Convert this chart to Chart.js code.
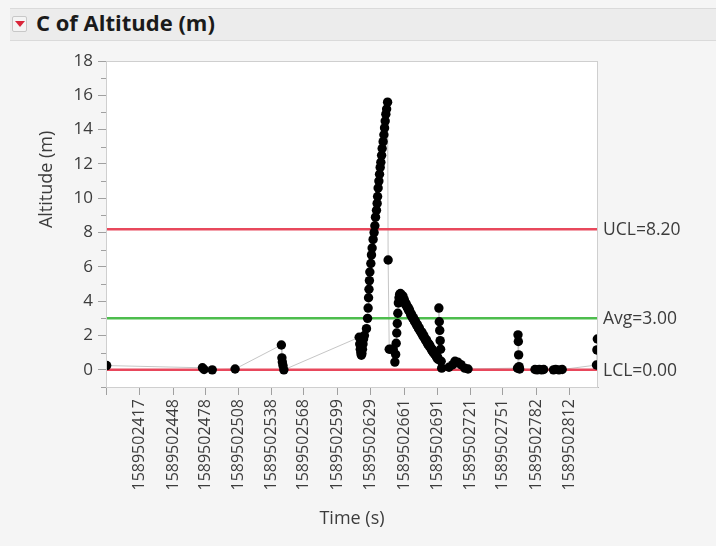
<!DOCTYPE html>
<html>
<head>
<meta charset="utf-8">
<script src="https://cdn.jsdelivr.net/npm/chart.js@4"></script>
<style>
  html, body { margin: 0; padding: 0; }
  body { width: 716px; height: 546px; background: #f5f5f5; position: relative; overflow: hidden; font-family: "Open Sans", sans-serif; }
  #head { position: absolute; left: 10px; top: 8px; width: 706px; height: 31px; background: #ececec; border-top: 1px solid #dadada; border-bottom: 1px solid #dadada; }
  #tri { position: absolute; left: 2px; top: 7px; width: 13px; height: 14px; background: #f4f4f4; border: 1px solid #c8c8c8; border-radius: 2px; }
  #tri:after { content: ''; position: absolute; left: 1.5px; top: 4px; border-left: 5px solid transparent; border-right: 5px solid transparent; border-top: 6px solid #d9263a; }
  #title { position: absolute; left: 26px; top: -2px; font-size: 22px; font-weight: 700; color: #1a1a1a; }
  #wrap { position: absolute; left: 0; top: 40px; width: 716px; height: 506px; }
</style>
</head>
<body>
<div id="head"><span id="tri"></span><span id="title">C of Altitude (m)</span></div>
<div id="wrap"><canvas id="chart"></canvas></div>
<script>
// time offsets (s) from T0
const T0 = 1589502000;
const times = [
  387, 475, 476.5, 484, 505,
  547.5, 548, 548.4, 549, 549.8,
  619, 619.5, 620, 620.5, 621, 621.5, 622, 622.5, 623, 623.8,
  625.7, 626.7, 627.2, 627.6, 628.0, 628.4, 628.8, 629.7, 630.3, 630.9,
  631.8, 632.7, 633.4, 634.0, 634.9, 635.5, 635.9, 636.4, 637.1, 637.7,
  638.3, 638.9, 639.6, 640.1, 641.0, 641.7, 642.3, 642.9, 643.5, 644.2, 645.1,
  645.6, 646.6, 648.5, 650.3, 651.8,
  652.5, 653.0, 653.5, 654.0, 654.5, 655.0, 655.6, 656.2, 656.9,
  658.0, 658.6, 659.2, 659.8, 660.4, 661.0, 661.6, 662.2, 662.8, 663.4,
  664.0, 664.6, 665.2, 665.8, 666.4, 667.0, 667.6, 668.2, 668.8, 669.4,
  670.0, 670.6, 671.2, 671.8, 672.4, 673.0, 673.6, 674.2, 674.8, 675.4,
  676.0, 676.6, 677.2, 677.8, 678.4, 679.0, 679.6, 680.2, 680.8, 681.4,
  682.0, 682.6, 683.2, 683.8, 684.4, 685.0, 685.6, 686.2, 686.8, 687.4,
  688.0, 688.6, 689.2, 689.8, 690.4, 691.0, 691.6,
  692.2, 692.6, 693.0, 693.4, 693.8, 694.3, 694.8,
  701.5, 705, 707, 709.5, 712.5, 716, 719,
  764.5, 764.9, 765.2, 765.5, 765.9, 766.4,
  780.5, 782.5, 784.5, 786.5, 788.5,
  797.5, 799.5, 802.5, 805.5,
  837, 837.4, 837.8
];
const altitude = [
  0.25, 0.12, 0.02, 0.0, 0.05,
  1.45, 0.7, 0.45, 0.25, 0.0,
  1.9, 1.5, 1.2, 1.0, 0.85, 0.95, 1.2, 1.5, 1.8, 2.0,
  2.4, 3.0, 3.6, 4.2, 4.7, 5.2, 5.7, 6.2, 6.7, 7.1,
  7.6, 8.0, 8.4, 8.9, 9.3, 9.7, 10.1, 10.6, 11.0, 11.4,
  11.8, 12.1, 12.5, 12.9, 13.3, 13.7, 14.1, 14.5, 14.9, 15.2, 15.6,
  6.4, 1.2, 1.2, 1.2, 0.45,
  0.9, 1.55, 2.15, 2.7, 3.3, 3.9, 4.2, 4.4, 4.45,
  4.35, 4.2, 4.3, 4.05, 4.1, 3.95, 3.8, 3.85, 3.7, 3.6,
  3.65, 3.45, 3.5, 3.35, 3.2, 3.25, 3.1, 3.0, 3.05, 2.9,
  2.8, 2.85, 2.7, 2.6, 2.65, 2.5, 2.4, 2.45, 2.3, 2.25,
  2.15, 2.2, 2.05, 1.95, 2.0, 1.85, 1.8, 1.7, 1.75, 1.6,
  1.5, 1.55, 1.4, 1.45, 1.3, 1.25, 1.15, 1.2, 1.05, 1.0,
  0.95, 0.9, 0.85, 0.8, 0.7, 0.75, 0.6,
  3.6, 2.8, 2.3, 1.7, 1.2, 0.5, 0.1,
  0.15, 0.3, 0.5, 0.45, 0.3, 0.1, 0.05,
  0.1, 2.04, 1.65, 0.87, 0.19, 0.05,
  0.02, 0.0, 0.03, 0.0, 0.02,
  0.0, 0.03, 0.0, 0.02,
  0.28, 1.16, 1.8
];
const limitNames = ['UCL', 'Avg', 'LCL'];
const limitValues = [8.20, 3.00, 0.00];
const limitColors = ['#e8485c', '#4dbd4d', '#e8485c'];
const xTickLabels = ['1589502417', '1589502448', '1589502478', '1589502508', '1589502538', '1589502568', '1589502599',
  '1589502629', '1589502661', '1589502691', '1589502721', '1589502751', '1589502782', '1589502812'];
const yTicks = [0, 2, 4, 6, 8, 10, 12, 14, 16, 18];
const xMin = T0 + 386.4, xMax = T0 + 838.4;
const yMin = -1, yMax = 18;

const pts = times.map((t, i) => ({x: T0 + t, y: altitude[i]}));
const font = 'Open Sans';

const datasets = [
  { data: pts, showLine: true, borderColor: '#c6c6c6', borderWidth: 1, pointRadius: 0, order: 3 }
];
limitValues.forEach((v, i) => {
  datasets.push({ data: [{x: xMin, y: v}, {x: xMax, y: v}], showLine: true, borderColor: limitColors[i],
    borderWidth: 2.5, pointRadius: 0, order: 2 });
});
datasets.push({ data: pts, showLine: false, backgroundColor: '#000', borderColor: '#000', pointRadius: 4.7, borderWidth: 0, order: 1 });

const extras = {
  id: 'extras',
  beforeDraw(chart){
    const {ctx, chartArea: a} = chart;
    ctx.save();
    ctx.fillStyle = '#fff';
    ctx.fillRect(a.left, a.top, a.right - a.left, a.bottom - a.top);
    ctx.restore();
  },
  afterDraw(chart){
    const {ctx, chartArea: a, scales: {x, y}} = chart;
    ctx.save();
    ctx.strokeStyle = '#cfcfcf'; ctx.lineWidth = 1;
    ctx.strokeRect(a.left + 0.5, a.top + 0.5, a.right - a.left - 1, a.bottom - a.top);
    // minor y ticks
    ctx.strokeStyle = '#a0a0a0';
    for (let v = -1; v < 18; v += 2) {
      const py = Math.round(y.getPixelForValue(v)) + 0.5;
      ctx.beginPath(); ctx.moveTo(a.left - 5, py); ctx.lineTo(a.left, py); ctx.stroke();
    }
    // limit labels
    ctx.fillStyle = '#3c3c3c';
    ctx.font = '17.5px "' + font + '"';
    ctx.textBaseline = 'middle';
    limitValues.forEach((v, i) => {
      ctx.fillText(limitNames[i] + '=' + v.toFixed(2), a.right + 5, y.getPixelForValue(v) + 1);
    });
    // y title
    ctx.translate(47, y.getPixelForValue(11.1));
    ctx.rotate(-Math.PI / 2);
    ctx.textAlign = 'center';
    ctx.font = '18px "' + font + '"';
    ctx.fillText('Altitude (m)', 0, 0);
    ctx.restore();
  }
};

new Chart(document.getElementById('chart'), {
  type: 'scatter',
  data: { datasets },
  plugins: [extras],
  options: {
    responsive: true, maintainAspectRatio: false, animation: false,
    layout: { padding: { left: 0, right: 118, top: 21, bottom: 16 } },
    plugins: { legend: { display: false }, tooltip: { enabled: false } },
    scales: {
      x: {
        type: 'linear', min: xMin, max: xMax,
        afterBuildTicks: s => { s.ticks = [{value: xMin}].concat(xTickLabels.map(l => ({value: Number(l)}))); },
        afterFit: s => { s.height = 143; },
        grid: { drawOnChartArea: false, tickLength: 8, color: '#a0a0a0' },
        border: { color: '#b8b8b8' },
        ticks: { autoSkip: false, minRotation: 90, maxRotation: 90, padding: 4, color: '#3c3c3c',
          font: { family: font, size: 16 },
          callback: v => v === xMin ? '' : String(v) },
        title: { display: true, text: 'Time (s)', color: '#3c3c3c', font: { family: font, size: 18 }, padding: { top: 4, bottom: 0 } }
      },
      y: {
        min: yMin, max: yMax,
        afterBuildTicks: s => { s.ticks = yTicks.map(v => ({value: v})); },
        afterFit: s => { s.width = 106; },
        grid: { drawOnChartArea: false, tickLength: 8, color: '#a0a0a0' },
        border: { color: '#b8b8b8' },
        ticks: { padding: 5, color: '#3c3c3c', font: { family: font, size: 17 } }
      }
    }
  }
});
</script>
</body>
</html>
